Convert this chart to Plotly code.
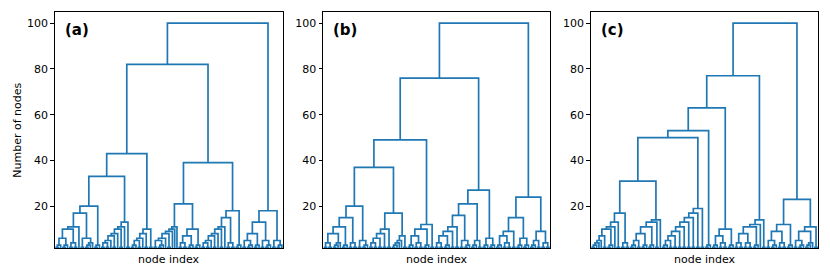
import plotly.graph_objects as go

# ---------------- data: dendrogram structures ----------------
# Each tree is a nested string: "." is a leaf (one node); "(A B C ...)" merges
# its children in order: first A with B, then that cluster with C, and so on.
# A merge is drawn at a height equal to the number of nodes it contains.

# panel (a)
A_20 = "(" + "(((...)(...))((..)(..)).)" + "((..)(....))" + "(...)" + ")"
A_13 = "(" + "((..)(..).(..).(..).)" + "(..)" + ")"
A_10 = "(" + "((..).(..).(..))" + "(..)" + ")"
A_21 = "(" + "(((..)(...)).(..)...)" + "((((..)(..))(...))(...))" + ")"
A_18 = "(" + "((..)(..).(..).(..).)" + "((..)(..))" + "(...)" + ")"
A_18B = "(" + "(((..)(...))(...))" + "((..)(...))" + "((..)(...))" + ")"
TREE_A = "((" + A_20 + A_13 + A_10 + ")(" + A_21 + A_18 + ")" + A_18B + ")"

# panel (b)
B_20 = "(" + "(((..)(..))(....))" + "(...)" + "((..)(..))" + "((..)(...))" + ")"
B_17 = "(" + "((..)(..)(..)(..)(..))" + "((.....)(..))" + ")"
B_12 = "(" + "((...)((..)(..)))" + "(...)" + "(..)" + ")"
B_21 = "(" + "(((..)(..))(...))" + "(..)" + "(..)" + "((..)(...))" + "((...)(..))" + ")"
B_6 = "((...)(...))"
B_15 = "(" + "((...)((..)(..)))" + "(..)" + "((...)(...))" + ")"
B_9 = "(((...)(..))((..)(..)))"
TREE_B = "(((" + B_20 + B_17 + B_12 + ")(" + B_21 + B_6 + "))(" + B_15 + B_9 + "))"

# panel (c)
C_17 = "(" + "((....).(..)(...).(..))" + "((..)(..))" + ")"
C_14 = "((...)(..)(...)(...)(..).)"
C_19 = "((...)(..)(..)(..)(..)(..)(..)(..)(..))"
C_3 = "(...)"
C_10 = "(((...)((..)(..)))(...))"
C_14B = "(((..)(..))((..)(..))(...).(..))"
C_12 = "((((..)(...))((..)(..)))(...))"
C_11 = "((((..)(...))(....))(..))"
TREE_C = "((" + C_17 + C_14 + ")" + C_19 + C_3 + C_10 + C_14B + "(" + C_12 + C_11 + "))"

TREES = [TREE_A, TREE_B, TREE_C]
PANEL_LABELS = ["(a)", "(b)", "(c)"]
Y_TICKS = [20, 40, 60, 80, 100]
X_TITLE = "node index"
Y_TITLE = "Number of nodes"

# ---------------- helpers ----------------
def parse(s):
    def rec(i):
        if s[i] == ".":
            return None, i + 1
        assert s[i] == "(", (i, s[i])
        i += 1
        kids = []
        while s[i] != ")":
            c, i = rec(i)
            kids.append(c)
        assert len(kids) >= 2, i
        node = kids[0]
        for c in kids[1:]:
            node = (node, c)
        return node, i + 1
    t, i = rec(0)
    assert i == len(s), (i, len(s))
    return t


def dendro_segments(tree):
    xs, ys = [], []
    cnt = [0]

    def rec(node):
        if node is None:
            x = 5 + 10 * cnt[0]
            cnt[0] += 1
            return x, 0, 1
        xl, yl, nl = rec(node[0])
        xr, yr, nr = rec(node[1])
        n = nl + nr
        xs.extend([xl, xl, xr, xr, None])
        ys.extend([yl, n, n, yr, None])
        return (xl + xr) / 2, n, n

    rec(tree)
    return xs, ys, cnt[0]


W, H = 830, 277
x_domains = [[55 / W, 283 / W], [323.3 / W, 550 / W], [591 / W, 818.3 / W]]
y_domain = [1 - 248.3 / H, 1 - 11.7 / H]
FONT = "DejaVu Sans"
COLOR = "#1f77b4"

fig = go.Figure()
annotations = []
for k, tree_s in enumerate(TREES):
    tree = parse(tree_s)
    xs, ys, n = dendro_segments(tree)
    assert n == 100, (k, n)
    sfx = "" if k == 0 else str(k + 1)
    fig.add_trace(go.Scatter(x=xs, y=ys, mode="lines",
                             line=dict(color=COLOR, width=1.7),
                             xaxis="x" + sfx, yaxis="y" + sfx,
                             hoverinfo="skip", showlegend=False))
    fig.layout["xaxis" + sfx] = dict(
        domain=x_domains[k], range=[0, 10 * n], anchor="y" + sfx,
        showticklabels=False, ticks="", showgrid=False, zeroline=False,
        showline=True, mirror=True, linecolor="black", linewidth=0.9)
    fig.layout["yaxis" + sfx] = dict(
        domain=y_domain, range=[1.6, 105], anchor="x" + sfx,
        tickmode="array", tickvals=Y_TICKS, ticktext=[str(v) for v in Y_TICKS],
        ticks="outside", ticklen=3.8, tickwidth=0.9, tickcolor="black",
        tickfont=dict(family=FONT, size=11, color="black"),
        showgrid=False, zeroline=False,
        showline=True, mirror=True, linecolor="black", linewidth=0.9)
    annotations.append(dict(
        text="<b>" + PANEL_LABELS[k] + "</b>", xref="paper", yref="paper",
        x=(x_domains[k][0] * W + 8) / W, y=1 - 30 / H,
        xanchor="left", yanchor="middle", showarrow=False,
        font=dict(family=FONT, size=15, color="black")))
    annotations.append(dict(
        text=X_TITLE, xref="paper", yref="paper",
        x=(x_domains[k][0] + x_domains[k][1]) / 2, y=1 - 259 / H,
        xanchor="center", yanchor="middle", showarrow=False,
        font=dict(family=FONT, size=11, color="black")))

annotations.append(dict(
    text=Y_TITLE, xref="paper", yref="paper", x=16.7 / W, y=1 - 130 / H,
    xanchor="center", yanchor="middle", textangle=-90, showarrow=False,
    font=dict(family=FONT, size=11, color="black")))

fig.update_layout(width=W, height=H, margin=dict(l=0, r=0, t=0, b=0),
                  paper_bgcolor="white", plot_bgcolor="white",
                  annotations=annotations, showlegend=False)

fig.write_html("out.html", config={"displayModeBar": False},
               post_script="document.body.style.margin='0';"
                           "document.body.style.padding='0';")
